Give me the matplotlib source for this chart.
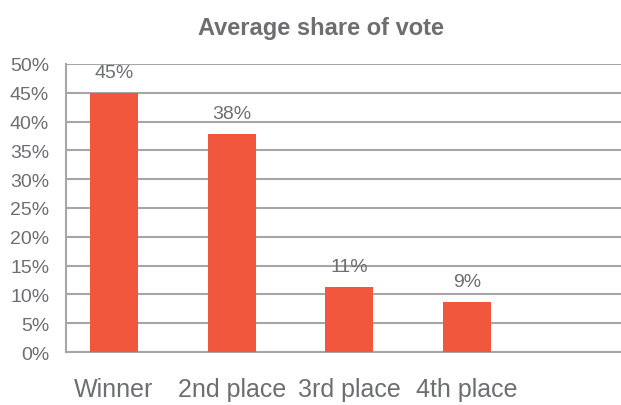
import matplotlib.pyplot as plt
from matplotlib.ticker import FuncFormatter

categories = ["Winner", "2nd place", "3rd place", "4th place"]
shares = [45.0, 37.8, 11.2, 8.6]
labels = ["45%", "38%", "11%", "9%"]

plt.rcParams['font.family'] = ['Liberation Sans Narrow', 'Liberation Sans', 'DejaVu Sans']
grey = "#6d6e71"
bar_color = "#f0573d"
grid_color = "#a6a6a6"

fig = plt.figure(figsize=(6.21, 4.06), dpi=100)
ax = fig.add_axes([0.106, 0.1305, 0.894, 0.7095])

x = range(len(categories))
ax.bar(x, shares, width=0.41, color=bar_color, zorder=3)
for i, (v, lab) in enumerate(zip(shares, labels)):
    ax.text(i, v + 2.1, lab, ha="center", va="bottom", fontsize=14, color=grey)

ax.set_ylim(0, 50)
ax.set_xlim(-0.41, 4.31)
ax.set_yticks(range(0, 51, 5))
ax.yaxis.set_major_formatter(FuncFormatter(lambda v, p: "%d%%" % v))
ax.set_xticks(list(x))
ax.set_xticklabels(categories, fontsize=18, color=grey)
ax.tick_params(axis="y", labelsize=14, labelcolor=grey, length=0, pad=12)
ax.tick_params(axis="x", length=0, pad=18)
ax.grid(axis="y", color=grid_color, linewidth=1.5, zorder=0)
for s in ["top", "right"]:
    ax.spines[s].set_visible(False)
ax.spines["left"].set_color(grid_color)
ax.spines["left"].set_linewidth(1.5)
ax.spines["bottom"].set_color(grid_color)
ax.spines["bottom"].set_linewidth(1.5)

fig.text(0.517, 0.93, "Average share of vote", ha="center", va="center",
         fontsize=17, fontweight="bold", color=grey)

fig.savefig("out.png", dpi=100)
